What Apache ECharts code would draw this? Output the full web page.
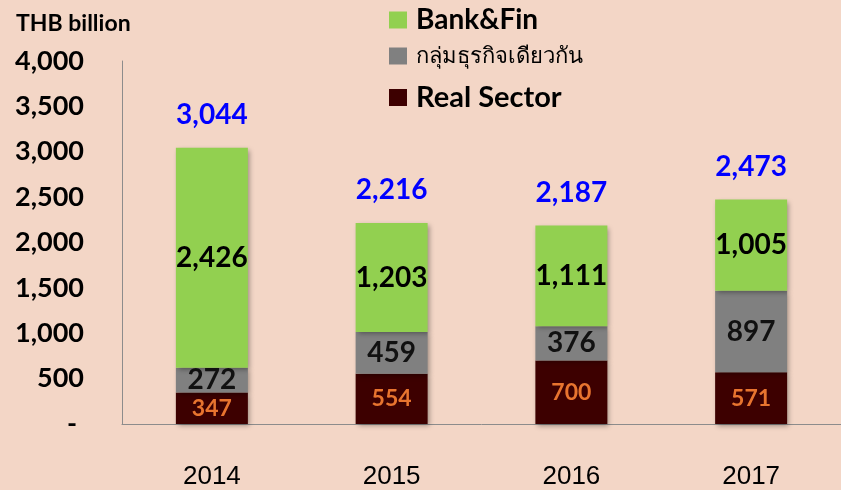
<!DOCTYPE html>
<html>
<head>
<meta charset="utf-8">
<script src="https://cdn.jsdelivr.net/npm/echarts@6/dist/echarts.min.js"></script>
<style>
  html, body { margin: 0; padding: 0; background: #f3d6c6; }
  #chart { width: 841px; height: 490px; }
</style>
</head>
<body>
<div id="chart"></div>
<script>
// data (THB billion)
const years = ['2014', '2015', '2016', '2017']
const realSector = [347, 554, 700, 571]
const sameGroup = [272, 459, 376, 897]
const bankFin = [2426, 1203, 1111, 1005]
const totals = [3044, 2216, 2187, 2473]

const FONT = 'Lato, "Noto Sans", sans-serif'
const THAI = 'กลุ่มธุรกิจเดียวกัน'

const chart = echarts.init(document.getElementById('chart'))

const fmt = v => Number(v).toLocaleString('en-US')

const segLabel = (color, size) => ({
  show: true,
  position: 'inside',
  color: color,
  fontFamily: FONT,
  fontWeight: 'bold',
  fontSize: size,
  formatter: p => fmt(p.value)
})

const barShadow = {
  shadowColor: 'rgba(0,0,0,0.35)',
  shadowBlur: 5,
  shadowOffsetX: 2,
  shadowOffsetY: 2
}

const legendText = (bold, size) => ({
  color: '#000',
  fontFamily: FONT,
  fontWeight: bold ? 'bold' : 'normal',
  fontSize: size,
  padding: [0, 0, 0, 4]
})

chart.setOption({
  backgroundColor: '#f3d6c6',
  animation: false,
  title: {
    text: 'THB billion',
    left: 11,
    top: 7,
    textStyle: { fontFamily: FONT, fontWeight: 'bold', fontSize: 23, color: '#000' }
  },
  legend: [
    {
      data: ['Bank&Fin'], left: 384, top: 1, itemWidth: 18, itemHeight: 17,
      icon: 'rect', textStyle: legendText(true, 28)
    },
    {
      data: [THAI], left: 384, top: 40, itemWidth: 18, itemHeight: 17,
      icon: 'rect', textStyle: legendText(false, 22)
    },
    {
      data: ['Real Sector'], left: 384, top: 78, itemWidth: 18, itemHeight: 17,
      icon: 'rect', textStyle: legendText(true, 29)
    }
  ],
  grid: { left: 122, right: -14, top: 61, bottom: 66 },
  xAxis: {
    type: 'category',
    data: years,
    axisLine: { lineStyle: { color: '#8c8c8c', width: 1 } },
    axisTick: { show: false },
    axisLabel: {
      margin: 40,
      color: '#000',
      fontFamily: '"Liberation Sans", Arial, sans-serif',
      fontSize: 26
    }
  },
  yAxis: {
    type: 'value',
    min: 0,
    max: 4000,
    interval: 500,
    splitLine: { show: false },
    axisTick: { show: false },
    axisLine: { show: true, lineStyle: { color: '#8c8c8c', width: 1 } },
    axisLabel: {
      margin: 38,
      color: '#000',
      fontFamily: FONT,
      fontWeight: 'bold',
      fontSize: 27,
      formatter: v => (v === 0 ? '{z|-}' : fmt(v)),
      rich: {
        z: { fontFamily: FONT, fontWeight: 'bold', fontSize: 27, color: '#000', padding: [0, 7, 0, 0] }
      }
    }
  },
  series: [
    {
      name: 'Real Sector',
      type: 'bar',
      stack: 'total',
      barWidth: 72,
      data: realSector,
      itemStyle: Object.assign({ color: '#3d0000' }, barShadow),
      label: segLabel('#e8742f', 23)
    },
    {
      name: THAI,
      type: 'bar',
      stack: 'total',
      data: sameGroup,
      itemStyle: Object.assign({ color: '#808080' }, barShadow),
      label: segLabel('#111', 28)
    },
    {
      name: 'Bank&Fin',
      type: 'bar',
      stack: 'total',
      data: bankFin,
      itemStyle: Object.assign({ color: '#92d050' }, barShadow),
      label: segLabel('#000', 28)
    },
    {
      name: 'total',
      type: 'line',
      data: totals,
      symbol: 'circle',
      symbolSize: 1,
      itemStyle: { color: 'rgba(0,0,0,0)' },
      lineStyle: { opacity: 0 },
      silent: true,
      label: {
        show: true,
        position: 'top',
        distance: 18,
        color: '#0000ff',
        fontFamily: FONT,
        fontWeight: 'bold',
        fontSize: 28,
        formatter: p => fmt(p.value)
      }
    }
  ]
})
</script>
</body>
</html>
